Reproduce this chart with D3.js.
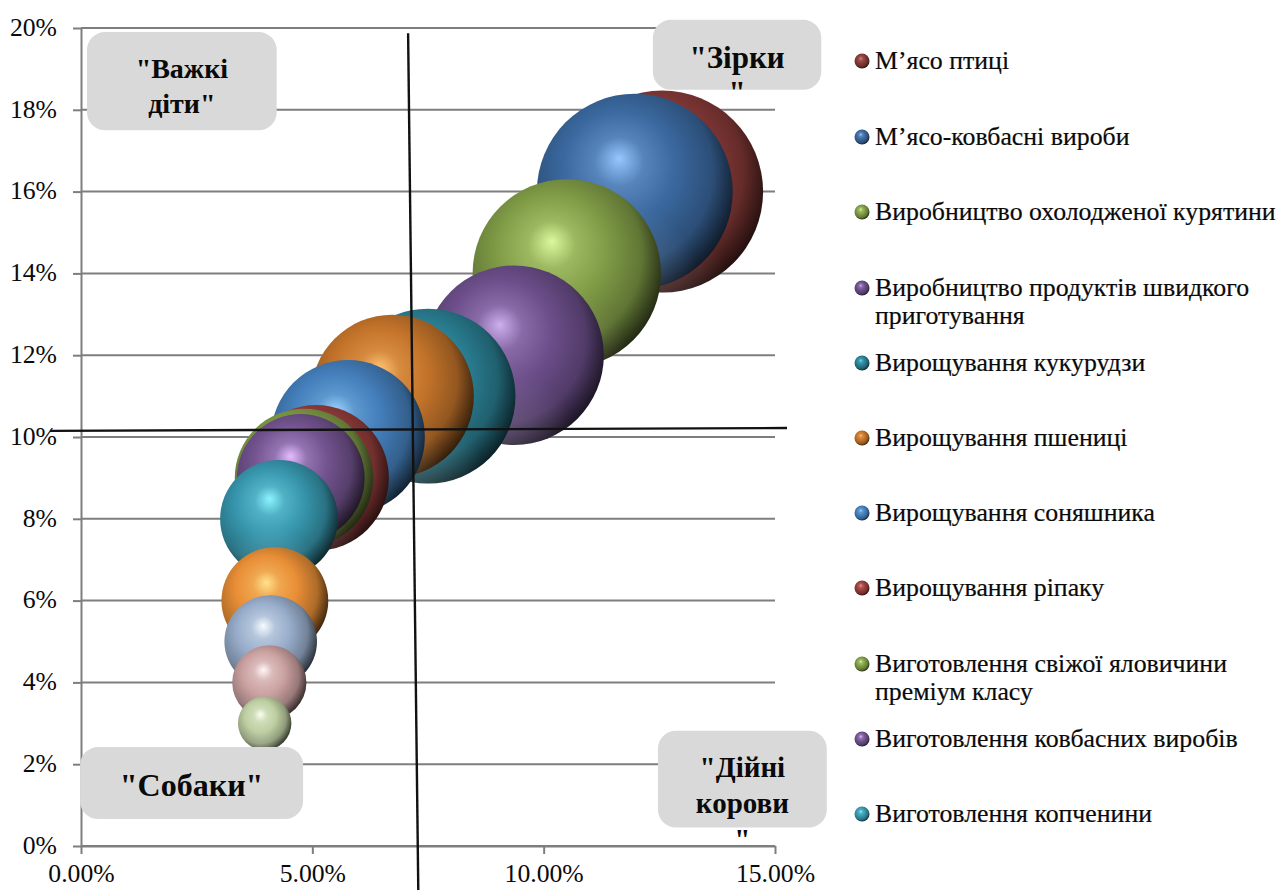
<!DOCTYPE html>
<html lang="uk">
<head>
<meta charset="utf-8">
<title>Матриця БКГ</title>
<script src="https://cdn.jsdelivr.net/npm/d3@7/dist/d3.min.js"></script>
<style>
  html, body { margin: 0; padding: 0; background: #fff; }
  svg { display: block; }
  text { font-family: "Liberation Serif", serif; fill: #0a0a0a; }
  .domain, .tick line, .grid line { stroke: #7e7e7e; stroke-width: 2; }
</style>
</head>
<body>
<svg id="chart" width="1278" height="890"></svg>
<script>
// Growth rate (x, %), market share (y, %), bubble size, drawn back to front.
const growth = [12.56, 11.97, 10.5, 9.36, 7.5, 6.73, 5.77, 5.08, 4.82, 4.75, 4.28, 4.19, 4.1, 4.07, 3.97];
const share  = [16, 16, 14, 12, 11, 11, 10, 9, 9, 9, 8, 6, 5, 4, 3];
const sizes  = [100, 94, 87, 79, 75, 65, 58, 52, 47, 40, 34, 28, 21, 13.5, 7];

// Base tone and highlight of each sphere.
const baseColors = ["#883a38", "#3a689e", "#809c46", "#6c4e8a", "#2a8094", "#c4742a", "#447ebb", "#983e3c",
                    "#809c46", "#72538f", "#3796ad", "#e88e36", "#98adcb", "#caa0a0", "#becfa2"];
const glowColors = ["#d88a86", "#96c6ff", "#dcf89e", "#cdaeee", "#74dcf0", "#ffc274", "#9cd4ff", "#ec9a96",
                    "#dcf89e", "#e2bcff", "#8cf2ff", "#ffe28c", "#f6fcff", "#fff6f6", "#fbfff0"];

const legendLabels = [
  ["М’ясо птиці"],
  ["М’ясо-ковбасні вироби"],
  ["Виробництво охолодженої курятини"],
  ["Виробництво продуктів швидкого", "приготування"],
  ["Вирощування кукурудзи"],
  ["Вирощування пшениці"],
  ["Вирощування соняшника"],
  ["Вирощування ріпаку"],
  ["Виготовлення свіжої яловичини", "преміум класу"],
  ["Виготовлення ковбасних виробів"],
  ["Виготовлення копченини"]
];
const legendRows = [61, 137, 212, 288, 363, 438, 513, 588, 664, 739, 814];

const xTicks = [0, 5, 10, 15];
const yTicks = [0, 2, 4, 6, 8, 10, 12, 14, 16, 18, 20];

// Dividers between the four quadrants, in axis units.
const dividerV = [[7.07, 19.87], [7.29, -1.08]];
const dividerH = [[-0.67, 10.15], [15.26, 10.22]];

const quadrantNames = [
  { lines: ["\"Важкі", "діти\""], box: [0.13, 19.9, 4.23, 17.5], pad: 46, dy: 35, size: 28 },
  { lines: ["\"Зірки", "\""], box: [12.36, 20.2, 16.0, 18.49], pad: 48, dy: 35, size: 31 },
  { lines: ["\"Собаки\""], box: [-0.02, 2.42, 4.8, 0.66], pad: 49, dy: 35, size: 32 },
  { lines: ["\"Дійні", "корови", "\""], box: [12.47, 2.82, 16.12, 0.45], pad: 46, dy: 36, size: 29 }
];

const svg = d3.select("#chart");
const x = d3.scaleLinear().domain([0, 15]).range([81, 775]);
const y = d3.scaleLinear().domain([0, 20]).range([846, 28]);
const r = d3.scaleSqrt().domain([0, 100]).range([0, 101]);

// Sphere shading: one gradient per colour, plus a shared rim overlay.
const defs = svg.append("defs");
function sphereGradient(id, base, glow) {
  const dark = d3.interpolateRgb(base, "#000")(0.8);
  const mid = d3.interpolateRgb(base, "#000")(0.25);
  const g = defs.append("radialGradient").attr("id", id)
    .attr("cx", 0.42).attr("cy", 0.42).attr("r", 0.63)
    .attr("fx", 0.42).attr("fy", 0.33);
  g.append("stop").attr("offset", 0).attr("stop-color", glow);
  g.append("stop").attr("offset", 0.2).attr("stop-color", d3.interpolateRgb(glow, base)(0.7));
  g.append("stop").attr("offset", 0.46).attr("stop-color", base);
  g.append("stop").attr("offset", 0.76).attr("stop-color", mid);
  g.append("stop").attr("offset", 1).attr("stop-color", dark);
}
baseColors.forEach((c, i) => sphereGradient("sphere" + i, c, glowColors[i]));

const rim = defs.append("radialGradient").attr("id", "rimGlow")
  .attr("cx", 0.42).attr("cy", 0.98).attr("r", 0.42);
rim.append("stop").attr("offset", 0).attr("stop-color", "#fff").attr("stop-opacity", 0.16);
rim.append("stop").attr("offset", 1).attr("stop-color", "#fff").attr("stop-opacity", 0);

// Gridlines and axes
svg.append("g").attr("class", "grid").selectAll("line").data(yTicks).join("line")
  .attr("x1", x(0)).attr("x2", x(15)).attr("y1", d => y(d)).attr("y2", d => y(d));

svg.append("g").attr("transform", `translate(${x(0)},0)`)
  .call(d3.axisLeft(y).tickValues(yTicks).tickSize(8).tickSizeOuter(0).tickPadding(16).tickFormat(d => d + "%"))
  .call(g => g.selectAll("text").attr("font-size", 25.7).attr("font-family", "Liberation Serif").attr("fill", "#0a0a0a").attr("y", -1));

svg.append("g").attr("transform", `translate(0,${y(0)})`)
  .call(d3.axisBottom(x).tickValues(xTicks).tickSize(8).tickSizeOuter(0).tickPadding(10).tickFormat(d => d.toFixed(2) + "%"))
  .call(g => g.selectAll("text").attr("font-size", 25.7).attr("font-family", "Liberation Serif").attr("fill", "#0a0a0a"));

// Bubbles
const bubbles = svg.append("g").selectAll("g").data(d3.range(growth.length)).join("g")
  .attr("transform", i => `translate(${x(growth[i])},${y(share[i])})`);
bubbles.append("circle").attr("r", i => r(sizes[i])).attr("fill", i => `url(#sphere${i})`);
bubbles.append("circle").attr("r", i => r(sizes[i])).attr("fill", "url(#rimGlow)");

// Quadrant dividers
const divider = d3.line().x(d => x(d[0])).y(d => y(d[1]));
svg.append("g").selectAll("path").data([dividerV, dividerH]).join("path")
  .attr("d", divider).attr("fill", "none").attr("stroke", "#111").attr("stroke-width", 2.4);

// Quadrant name callouts
const callouts = svg.append("g").selectAll("g").data(quadrantNames).join("g");
callouts.append("rect")
  .attr("x", d => x(d.box[0])).attr("y", d => y(d.box[1]))
  .attr("width", d => x(d.box[2]) - x(d.box[0])).attr("height", d => y(d.box[3]) - y(d.box[1]))
  .attr("rx", 18).attr("fill", "#d9d9d9");
callouts.each(function (d) {
  const cx = (x(d.box[0]) + x(d.box[2])) / 2;
  const top = y(d.box[1]);
  d3.select(this).selectAll("text").data(d.lines).join("text")
    .attr("x", cx).attr("y", (t, i) => top + d.pad + i * d.dy)
    .attr("text-anchor", "middle").attr("font-size", d.size).attr("font-weight", "bold")
    .text(t => t);
});

// Legend
const legend = svg.append("g").selectAll("g").data(legendLabels).join("g")
  .attr("transform", (d, i) => `translate(862,${legendRows[i]})`);
legend.append("circle").attr("r", 7.5).attr("fill", (d, i) => `url(#sphere${i})`);
legend.selectAll("text").data(d => d).join("text")
  .attr("x", 13).attr("y", (t, i) => 8 + i * 28)
  .attr("font-size", 25.8)
  .attr("stroke", "#0a0a0a").attr("stroke-width", 0.2)
  .text(t => t);
</script>
</body>
</html>
